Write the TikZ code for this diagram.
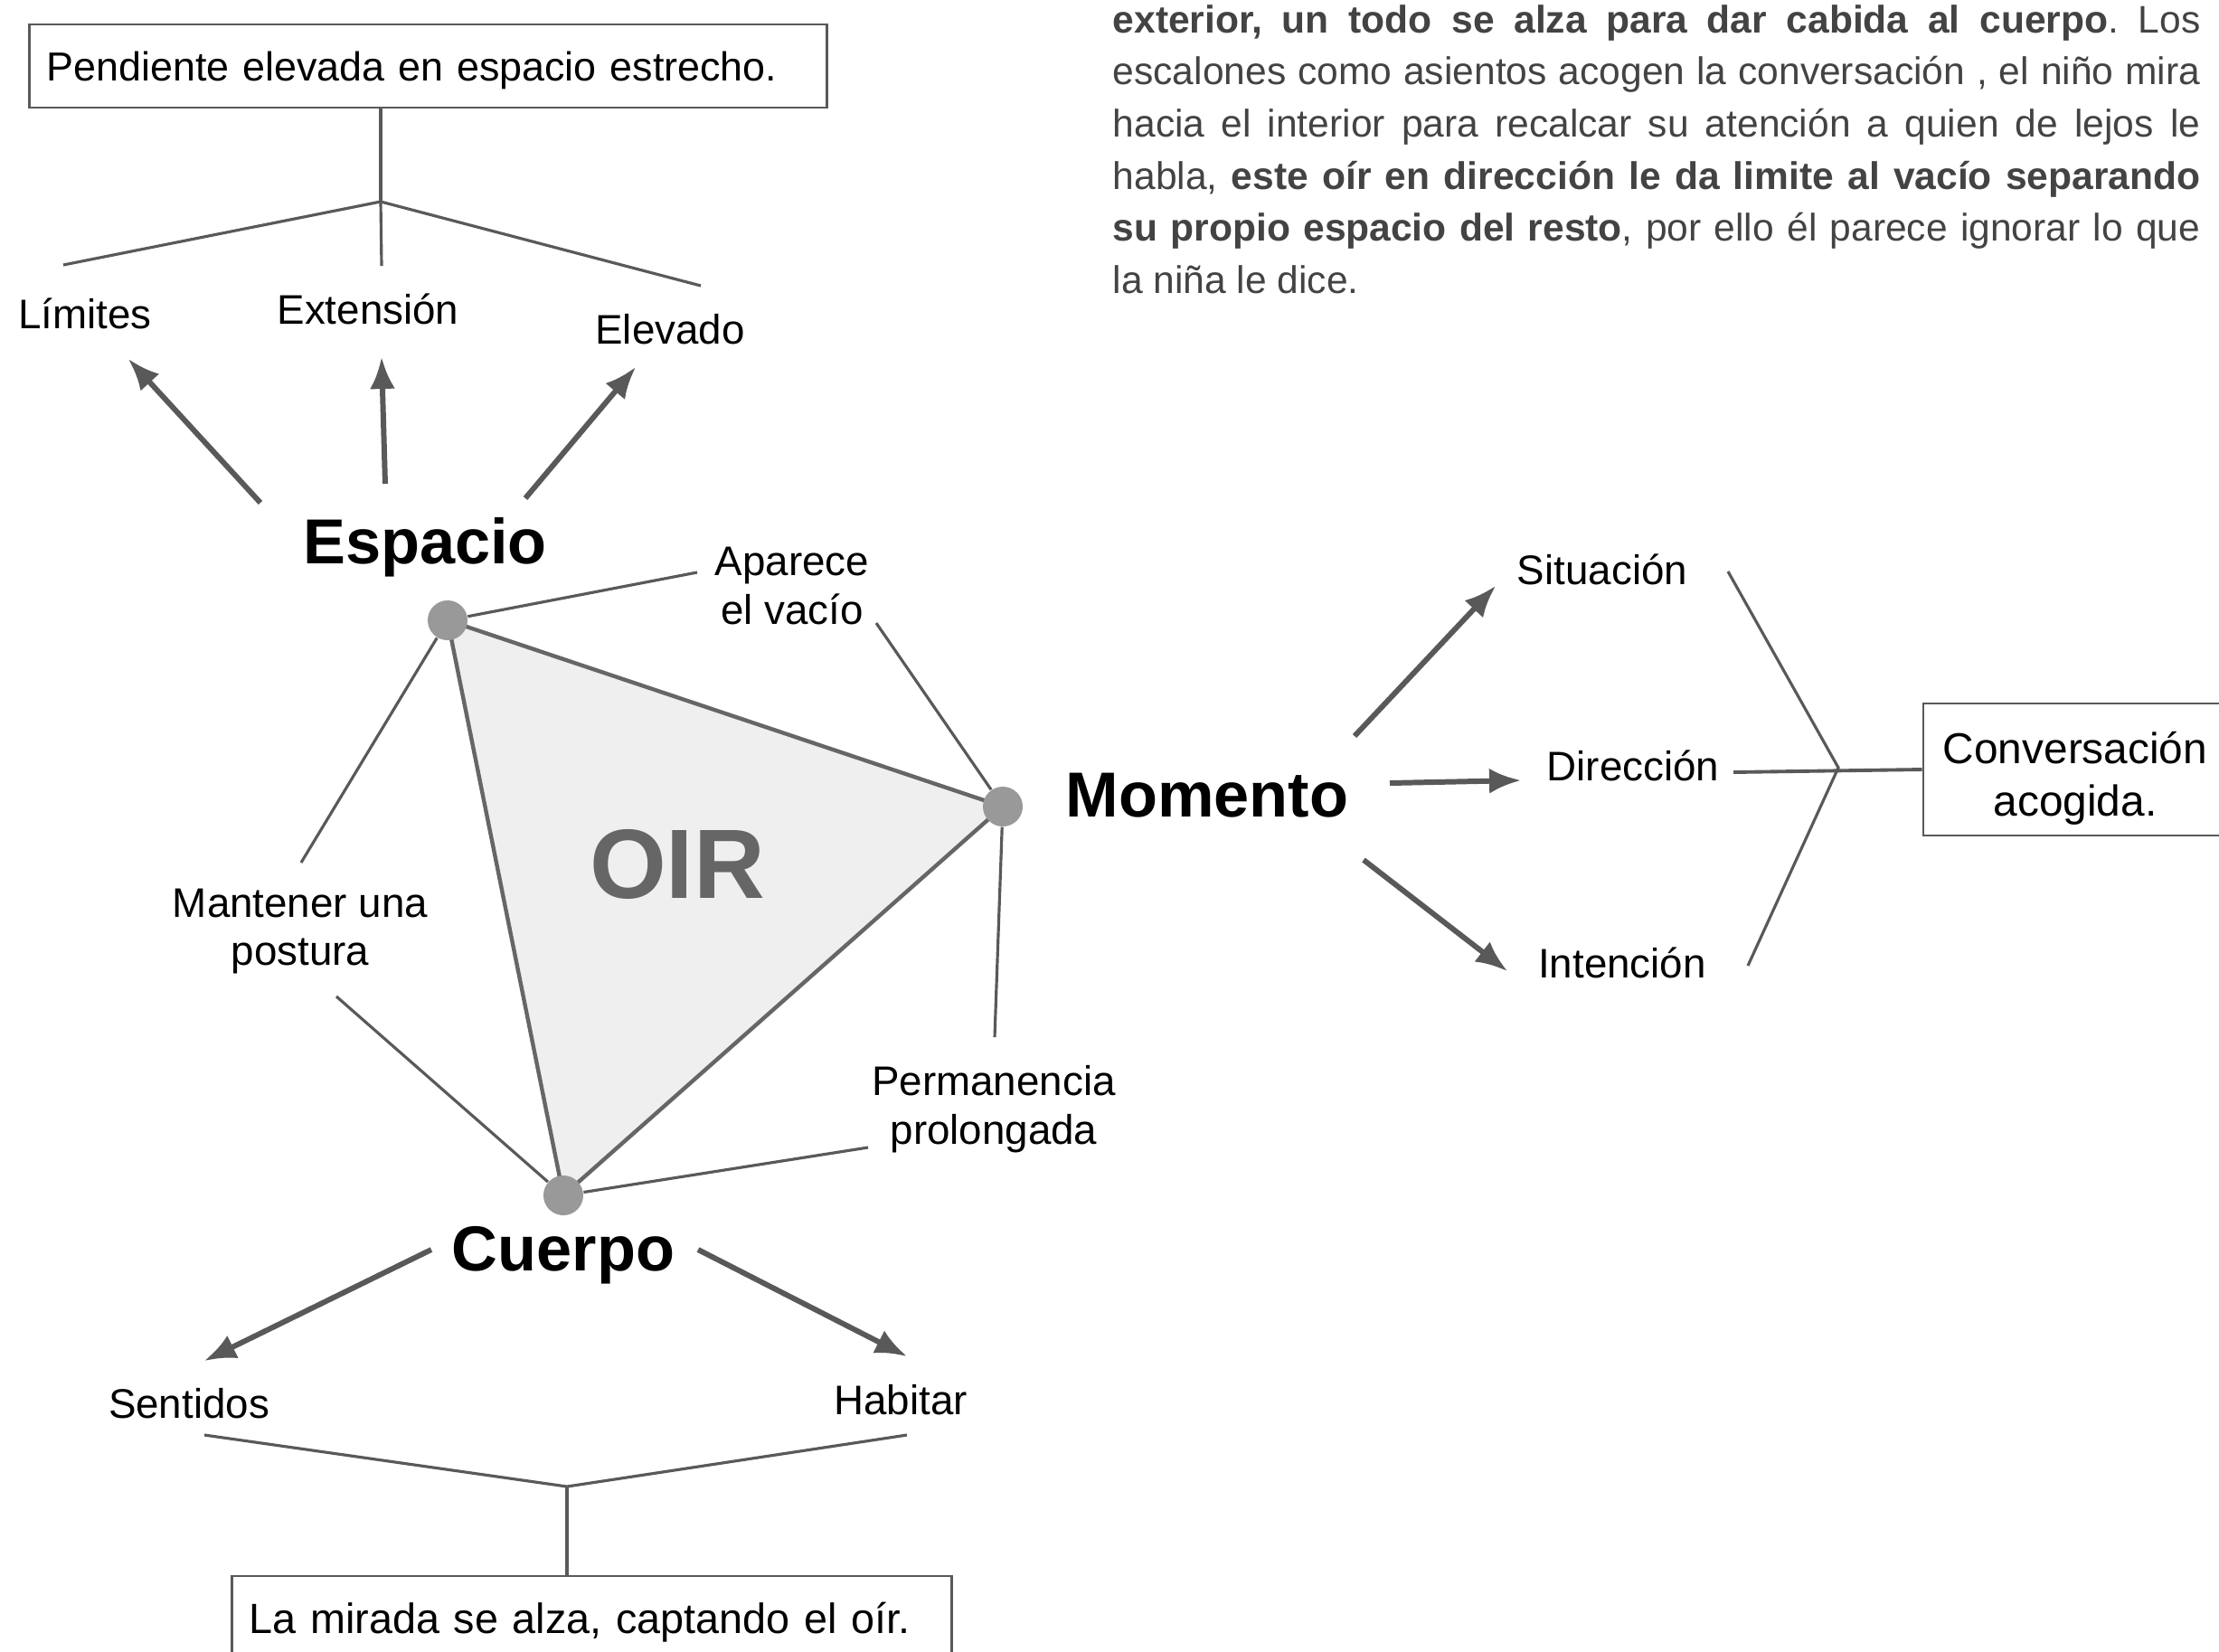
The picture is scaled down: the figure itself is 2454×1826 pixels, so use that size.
\documentclass[tikz,border=0pt]{standalone}
\usepackage{fontspec}
\setmainfont{Liberation Sans}
\usetikzlibrary{arrows.meta}
\definecolor{linegray}{HTML}{595959}
\definecolor{edgegray}{HTML}{666666}
\definecolor{fillgray}{HTML}{EFEFEF}
\definecolor{dotgray}{HTML}{999999}
\definecolor{textgray}{HTML}{434343}

\begin{document}
\begin{tikzpicture}[x=0.01cm, y=-0.01cm]
    \tikzstyle{tag} = [inner sep=0, align=center, font=\fontsize{13pt}{15.3pt}\selectfont]
    \tikzstyle{heading} = [inner sep=0, font=\fontsize{20pt}{24pt}\selectfont\bfseries]
    \tikzstyle{note} = [draw=linegray, line width=0.8pt, inner xsep=0.19cm, inner ysep=0.05cm, font=\fontsize{13pt}{15.3pt}\selectfont]
    \tikzstyle{vertex} = [circle, fill=dotgray, minimum size=0.44cm, inner sep=0]
    \tikzstyle{connector} = [draw=linegray, line width=0.9pt]
    \tikzstyle{pointer} = [draw=linegray, line width=1.7pt, -{Latex[length=3.5mm, width=2.8mm]}]
    \tikzstyle{prose} = [inner sep=0, text=textgray, font=\fontsize{12.1pt}{16.4pt}\selectfont\frenchspacing]

    \fill[white] (0,0) rectangle (2454,1826);
    \useasboundingbox (0,0) rectangle (2454,1826);

    % free ends of the connectors
    \coordinate (topfork) at (421,223);
    \coordinate (limtop) at (70,293);
    \coordinate (exttop) at (422,294);
    \coordinate (elevtop) at (775,316);
    \coordinate (espL) at (288,556);
    \coordinate (limtip) at (142,397);
    \coordinate (espM) at (426,535);
    \coordinate (exttip) at (422,395);
    \coordinate (espR) at (581,551);
    \coordinate (elevtip) at (703,406);
    \coordinate (pE) at (495,686);
    \coordinate (pM) at (1109,892);
    \coordinate (pC) at (623,1322);
    \coordinate (apin) at (771,633);
    \coordinate (apout) at (969,689);
    \coordinate (mantop) at (333,954);
    \coordinate (manbot) at (372,1102);
    \coordinate (pertop) at (1100,1147);
    \coordinate (perbot) at (960,1269);
    \coordinate (momU) at (1498,814);
    \coordinate (sittip) at (1654,648);
    \coordinate (momM) at (1537,866);
    \coordinate (dirtip) at (1682,863);
    \coordinate (momD) at (1508,951);
    \coordinate (inttip) at (1667,1074);
    \coordinate (sitend) at (1911,632);
    \coordinate (dirend) at (1917,854);
    \coordinate (intend) at (1933,1068);
    \coordinate (rightfork) at (2033,849);
    \coordinate (cueL) at (477,1382);
    \coordinate (sentip) at (226,1505);
    \coordinate (cueR) at (772,1382);
    \coordinate (habtip) at (1003,1500);
    \coordinate (senend) at (226,1587);
    \coordinate (habend) at (1003,1587);
    \coordinate (botfork) at (627,1644);

    \node[prose, anchor=base west] (texto) at (1230,36) {\parbox[t]{12.02cm}{%
        \makebox[\linewidth][s]{\textbf{exterior, un todo se alza para dar cabida al cuerpo}. Los}\\
        \makebox[\linewidth][s]{escalones como asientos acogen la conversación , el niño mira}\\
        \makebox[\linewidth][s]{hacia el interior para recalcar su atención a quien de lejos le}\\
        \makebox[\linewidth][s]{habla, \textbf{este oír en dirección le da limite al vacío separando}}\\
        \makebox[\linewidth][s]{\textbf{su propio espacio del resto}, por ello él parece ignorar lo que}\\
        la niña le dice.}};

    \node[note, minimum width=8.81cm, minimum height=0.92cm, text width=8.43cm, text depth=0pt, align=left, font=\fontsize{12.75pt}{15.3pt}\selectfont] (pendiente) at (473.5,73) {Pendiente elevada en espacio estrecho.};
    \node[note, minimum width=3.36cm, minimum height=1.46cm, align=center, font=\fontsize{13.6pt}{16.6pt}\selectfont] (conversacion) at (2295,851) {\rule{0pt}{15.5pt}Conversación\\acogida.};
    \node[note, minimum width=7.95cm, minimum height=1.02cm, text width=7.57cm, align=left, font=\fontsize{13.3pt}{15.3pt}\selectfont] (mirada) at (654.5,1794) {La mirada se alza, captando el oír.};

    \node[tag, anchor=base] (limites) at (94,363) {Límites};
    \node[tag, anchor=base] (extension) at (407,358) {Extensión};
    \node[tag, anchor=base] (elevado) at (741,380) {Elevado};
    \node[heading, anchor=base] (espacio) at (470,623) {Espacio};
    \node[heading, anchor=base] (momento) at (1335,903) {Momento};
    \node[heading, anchor=base] (cuerpo) at (623,1405) {Cuerpo};
    \node[tag, anchor=base] (situacion) at (1772,646) {Situación};
    \node[tag, anchor=base] (direccion) at (1806,863) {Dirección};
    \node[tag, anchor=base] (intencion) at (1794,1081) {Intención};
    \node[tag, anchor=base] (sentidos) at (209,1568) {Sentidos};
    \node[tag, anchor=base] (habitar) at (996,1564) {Habitar};
    \node[tag] (aparece) at (876,648) {Aparece\\el vacío};
    \node[tag] (mantener) at (332,1030) {Mantener una\\postura};
    \node[tag] (permanencia) at (1099,1227) {Permanencia\\prolongada};

    % triangle
    \filldraw[fill=fillgray, draw=edgegray, line width=1.25pt, line join=round] (pE) -- (pM) -- (pC) -- cycle;
    \node[inner sep=0, anchor=base, text=edgegray, font=\fontsize{31pt}{36pt}\selectfont\bfseries] (oir) at (749,993) {OIR};
    \node[vertex] (espdot) at (pE) {};
    \node[vertex] (momdot) at (pM) {};
    \node[vertex] (cuedot) at (pC) {};

    \draw[connector] (espdot) -- (apin);
    \draw[connector] (apout) -- (momdot);
    \draw[connector] (espdot) -- (mantop);
    \draw[connector] (manbot) -- (cuedot);
    \draw[connector] (momdot) -- (pertop);
    \draw[connector] (perbot) -- (cuedot);

    \draw[connector] (topfork |- pendiente.south) -- (topfork);
    \draw[connector] (limtop) -- (topfork) -- (elevtop);
    \draw[connector] (topfork) -- (exttop);
    \draw[pointer] (espL) -- (limtip);
    \draw[pointer] (espM) -- (exttip);
    \draw[pointer] (espR) -- (elevtip);

    \draw[pointer] (momU) -- (sittip);
    \draw[pointer] (momM) -- (dirtip);
    \draw[pointer] (momD) -- (inttip);
    \draw[connector] (sitend) -- (rightfork) -- (intend);
    \draw[connector, line width=1.1pt] (dirend) -- (conversacion.west);

    \draw[pointer] (cueL) -- (sentip);
    \draw[pointer] (cueR) -- (habtip);
    \draw[connector] (senend) -- (botfork) -- (habend);
    \draw[connector] (botfork) -- (botfork |- mirada.north);
\end{tikzpicture}
\end{document}
